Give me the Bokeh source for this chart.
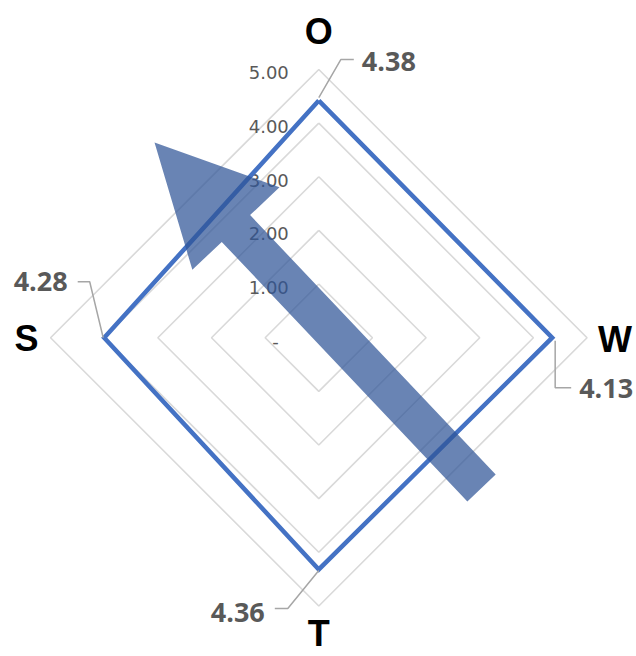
import math
from bokeh.plotting import figure
from bokeh.models import Range1d
from bokeh.core.properties import value
from bokeh.embed import file_html
from bokeh.resources import INLINE

# ---- data ----
categories = ["O", "W", "T", "S"]
series_values = [4.42, 4.35, 4.32, 4.00]          # plotted radii
value_labels = ["4.38", "4.13", "4.36", "4.28"]   # data label texts
grid_levels = [1, 2, 3, 4, 5]
tick_levels = [0, 1, 2, 3, 4, 5]
tick_labels = ["-", "1.00", "2.00", "3.00", "4.00", "5.00"]

# ---- layout / style ----
W, H = 636, 656
U = 53.65                 # pixels per value unit
CX, CY = 318.3, 337.2     # centre in figure pixels
angles = [90, 0, -90, 180]  # O top, W right, T bottom, S left

GRID_COLOR = "#D9D9D9"
SERIES_COLOR = "#4472C4"
LABEL_GREY = "#595959"
LEADER_GREY = "#A6A6A6"

p = figure(width=W, height=H, output_backend="svg", toolbar_location=None,
           x_range=Range1d(-CX / U, (W - CX) / U),
           y_range=Range1d(-(H - CY) / U, CY / U),
           x_axis_type=None, y_axis_type=None, min_border=0)
p.grid.visible = False
p.outline_line_color = None
p.background_fill_color = "white"
p.border_fill_color = "white"


def polar(r, a):
    return r * math.cos(math.radians(a)), r * math.sin(math.radians(a))


# grid diamonds
gx, gy = [], []
for lv in grid_levels:
    pts = [polar(lv, a) for a in angles]
    pts.append(pts[0])
    gx.append([q[0] for q in pts])
    gy.append([q[1] for q in pts])
p.multi_line(gx, gy, line_color=GRID_COLOR, line_width=1.6)

# tick labels
p.text(x=[0] * len(tick_levels), y=tick_levels, text=tick_labels,
       text_align="right", text_baseline="alphabetic",
       x_offset=[-40 if t == "-" else -30 for t in tick_labels], y_offset=3.5,
       text_font=value("DejaVu Sans"), text_font_size="18px", text_color=LABEL_GREY)

# series polygon
sp = [polar(v, a) for v, a in zip(series_values, angles)]
sp.append(sp[0])
p.line([q[0] for q in sp], [q[1] for q in sp], line_color=SERIES_COLOR,
       line_width=4.5, line_join="miter")

# leader lines (pixel offsets from each point, y down) and label anchors
leaders = {
    "O": [(0, -3), (22, -41), (35, -41)],
    "W": [(3, 3), (3, 50), (19, 50)],
    "T": [(0, 1), (-31, 39), (-44, 39)],
    "S": [(-1, 0), (-14.5, -56), (-26.5, -56)],
}
label_pos = {  # (dx px, dy px, align)
    "O": (43, -39, "left"),
    "W": (27, 51, "left"),
    "T": (-54, 43, "right"),
    "S": (-36.5, -56, "right"),
}
lx, ly = [], []
for c, (px_, py_) in zip(categories, sp[:-1]):
    lx.append([px_ + dx / U for dx, dy in leaders[c]])
    ly.append([py_ - dy / U for dx, dy in leaders[c]])
p.multi_line(lx, ly, line_color=LEADER_GREY, line_width=1.5)

for c, lab, (px_, py_) in zip(categories, value_labels, sp[:-1]):
    dx, dy, al = label_pos[c]
    p.text(x=[px_], y=[py_], text=[lab], x_offset=dx, y_offset=dy,
           text_align=al, text_baseline="alphabetic",
           text_font=value("Open Sans"), text_font_style="bold",
           text_font_size="27px", text_color=LABEL_GREY)

# arrow overlay
ARROW_TAIL = (3.033, -2.801)
ARROW_TIP = (-3.062, 3.638)
SHAFT_W, HEAD_W, HEAD_L = 0.727, 2.237, 2.207
ux, uy = ARROW_TIP[0] - ARROW_TAIL[0], ARROW_TIP[1] - ARROW_TAIL[1]
ln = math.hypot(ux, uy)
ux, uy = ux / ln, uy / ln
nx, ny = -uy, ux
bx, by = ARROW_TIP[0] - ux * HEAD_L, ARROW_TIP[1] - uy * HEAD_L
ax = [ARROW_TAIL[0] + nx * SHAFT_W / 2, bx + nx * SHAFT_W / 2, bx + nx * HEAD_W / 2,
      ARROW_TIP[0], bx - nx * HEAD_W / 2, bx - nx * SHAFT_W / 2,
      ARROW_TAIL[0] - nx * SHAFT_W / 2]
ay = [ARROW_TAIL[1] + ny * SHAFT_W / 2, by + ny * SHAFT_W / 2, by + ny * HEAD_W / 2,
      ARROW_TIP[1], by - ny * HEAD_W / 2, by - ny * SHAFT_W / 2,
      ARROW_TAIL[1] - ny * SHAFT_W / 2]
p.patch(ax, ay, fill_color="#2F5597", fill_alpha=0.72, line_color=None)

# category labels (offsets from the outer grid corner)
cat_pos = {
    "O": (0, -38, "center"),
    "W": (11, 2, "left"),
    "T": (0, 28, "center"),
    "S": (-12, 1, "right"),
}
for c, a in zip(categories, angles):
    x0, y0 = polar(5, a)
    dx, dy, al = cat_pos[c]
    p.text(x=[x0], y=[y0], text=[c], x_offset=dx, y_offset=dy,
           text_align=al, text_baseline="alphabetic",
           text_font=value("Liberation Sans"), text_font_style="bold",
           text_font_size="36px", text_color="black")

open("out.html", "w").write(file_html(p, INLINE))
